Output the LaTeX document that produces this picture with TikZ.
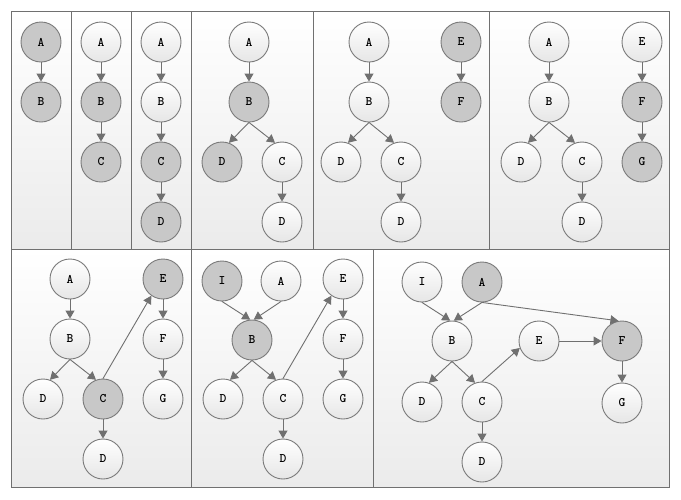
\documentclass[tikz,border=0pt]{standalone}
\usetikzlibrary{arrows.meta}
\definecolor{edgegray}{HTML}{707070}
\definecolor{ringgray}{HTML}{7A7A7A}
\definecolor{hitgray}{HTML}{C8C8C8}
\definecolor{panelbot}{HTML}{EBEBEB}
\definecolor{nodebot}{HTML}{E6E6E6}

\begin{document}
\begin{tikzpicture}[x=1pt,y=-1pt,line cap=round,line join=round,
    panel/.style={draw=edgegray,line width=1pt,top color=white,bottom color=panelbot},
    vis/.style={circle,draw=ringgray,line width=0.9pt,minimum size=40pt,inner sep=0pt,
      font=\ttfamily\bfseries\fontsize{13}{13}\selectfont,top color=white,bottom color=nodebot},
    hit/.style={vis,fill=hitgray,top color=hitgray,bottom color=hitgray},
    link/.style={draw=edgegray,line width=0.9pt,-{Triangle[length=8pt,width=9pt]}}]
  \useasboundingbox (0,0) rectangle (681,499);
  % panels, top row
  \shade[panel] (11,11) rectangle (71,249);
  \shade[panel] (71,11) rectangle (131,249);
  \shade[panel] (131,11) rectangle (191,249);
  \shade[panel] (191,11) rectangle (313,249);
  \shade[panel] (313,11) rectangle (489,249);
  \shade[panel] (489,11) rectangle (669,249);
  % panels, bottom row
  \shade[panel] (11,249) rectangle (191,487);
  \shade[panel] (191,249) rectangle (373,487);
  \shade[panel] (373,249) rectangle (669,487);
  \draw[edgegray,line width=1pt] (11,11) rectangle (669,487);

  % step 1
  \node[hit] (aA) at (41,42) {A};
  \node[hit] (aB) at (41,102) {B};
  \draw[link] (aA) -- (aB);

  % step 2
  \node[vis] (bA) at (101,42) {A};
  \node[hit] (bB) at (101,102) {B};
  \node[hit] (bC) at (101,162) {C};
  \draw[link] (bA) -- (bB);
  \draw[link] (bB) -- (bC);

  % step 3
  \node[vis] (cA) at (161,42) {A};
  \node[vis] (cB) at (161,102) {B};
  \node[hit] (cC) at (161,162) {C};
  \node[hit] (cD) at (161,222) {D};
  \draw[link] (cA) -- (cB);
  \draw[link] (cB) -- (cC);
  \draw[link] (cC) -- (cD);

  % step 4
  \node[vis] (dA) at (249,42) {A};
  \node[hit] (dB) at (249,102) {B};
  \node[hit] (dD) at (222,162) {D};
  \node[vis] (dC) at (282,162) {C};
  \node[vis] (dD2) at (282,222) {D};
  \draw[link] (dA) -- (dB);
  \draw[link] (dB.south) -- (dD.70);
  \draw[link] (dB.south) -- (dC.110);
  \draw[link] (dC) -- (dD2);

  % step 5
  \node[vis] (eA) at (369,42) {A};
  \node[vis] (eB) at (369,102) {B};
  \node[vis] (eD) at (341,162) {D};
  \node[vis] (eC) at (401,162) {C};
  \node[vis] (eD2) at (401,222) {D};
  \node[hit] (eE) at (461,42) {E};
  \node[hit] (eF) at (461,102) {F};
  \draw[link] (eA) -- (eB);
  \draw[link] (eB.south) -- (eD.70);
  \draw[link] (eB.south) -- (eC.110);
  \draw[link] (eC) -- (eD2);
  \draw[link] (eE) -- (eF);

  % step 6
  \node[vis] (fA) at (549,42) {A};
  \node[vis] (fB) at (549,102) {B};
  \node[vis] (fD) at (521,162) {D};
  \node[vis] (fC) at (582,162) {C};
  \node[vis] (fD2) at (582,222) {D};
  \node[vis] (fE) at (642,42) {E};
  \node[hit] (fF) at (642,102) {F};
  \node[hit] (fG) at (642,162) {G};
  \draw[link] (fA) -- (fB);
  \draw[link] (fB.south) -- (fD.70);
  \draw[link] (fB.south) -- (fC.110);
  \draw[link] (fC) -- (fD2);
  \draw[link] (fE) -- (fF);
  \draw[link] (fF) -- (fG);

  % step 7
  \node[vis] (gA) at (70,279) {A};
  \node[vis] (gB) at (70,339) {B};
  \node[vis] (gD) at (43,399) {D};
  \node[hit] (gC) at (103,399) {C};
  \node[vis] (gD2) at (103,459) {D};
  \node[hit] (gE) at (163,279) {E};
  \node[vis] (gF) at (163,339) {F};
  \node[vis] (gG) at (163,399) {G};
  \draw[link] (gA) -- (gB);
  \draw[link] (gB.south) -- (gD.70);
  \draw[link] (gB.south) -- (gC.110);
  \draw[link] (gC) -- (gD2);
  \draw[link] (gC.north) -- (gE.235);
  \draw[link] (gE) -- (gF);
  \draw[link] (gF) -- (gG);

  % step 8
  \node[hit] (hI) at (222,281) {I};
  \node[vis] (hA) at (281,281) {A};
  \node[hit] (hB) at (252,340) {B};
  \node[vis] (hD) at (223,399) {D};
  \node[vis] (hC) at (283,399) {C};
  \node[vis] (hD2) at (283,459) {D};
  \node[vis] (hE) at (343,279) {E};
  \node[vis] (hF) at (343,339) {F};
  \node[vis] (hG) at (343,399) {G};
  \draw[link] (hI.south) -- (hB.95);
  \draw[link] (hA.south) -- (hB.85);
  \draw[link] (hB.south) -- (hD.70);
  \draw[link] (hB.south) -- (hC.110);
  \draw[link] (hC) -- (hD2);
  \draw[link] (hC.north) -- (hE.235);
  \draw[link] (hE) -- (hF);
  \draw[link] (hF) -- (hG);

  % step 9
  \node[vis] (kI) at (422,282) {I};
  \node[hit] (kA) at (482,282) {A};
  \node[vis] (kB) at (452,341) {B};
  \node[vis] (kE) at (539,341) {E};
  \node[hit] (kF) at (622,341) {F};
  \node[vis] (kD) at (422,402) {D};
  \node[vis] (kC) at (482,402) {C};
  \node[vis] (kD2) at (482,462) {D};
  \node[vis] (kG) at (622,403) {G};
  \draw[link] (kI.south) -- (kB.95);
  \draw[link] (kA.south) -- (kB.85);
  \draw[link] (kA.south) -- (kF.100);
  \draw[link] (kB.south) -- (kD.70);
  \draw[link] (kB.south) -- (kC.110);
  \draw[link] (kC) -- (kD2);
  \draw[link] (kC.north) -- (kE.200);
  \draw[link] (kE) -- (kF);
  \draw[link] (kF) -- (kG);
\end{tikzpicture}
\end{document}
